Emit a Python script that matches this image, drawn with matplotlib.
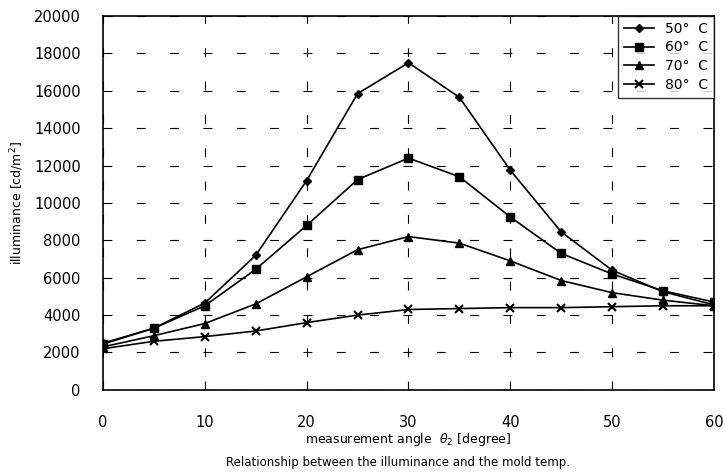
import numpy as np
import matplotlib
matplotlib.use('Agg')
import matplotlib.pyplot as plt

# measurement angle and illuminance for each mold temperature
angle = [0, 5, 10, 15, 20, 25, 30, 35, 40, 45, 50, 55, 60]
lum_50 = [2500, 3300, 4650, 7200, 11200, 15850, 17500, 15650, 11750, 8450, 6400, 5250, 4550]
lum_60 = [2450, 3300, 4500, 6450, 8800, 11250, 12400, 11400, 9250, 7300, 6200, 5300, 4700]
lum_70 = [2300, 2900, 3550, 4600, 6050, 7500, 8200, 7850, 6900, 5850, 5200, 4800, 4500]
lum_80 = [2200, 2600, 2850, 3150, 3600, 4000, 4300, 4350, 4400, 4400, 4450, 4500, 4500]
labels = ['50°  C', '60°  C', '70°  C', '80°  C']

plt.rcParams['font.family'] = ['DejaVu Sans']

fig = plt.figure(figsize=(7.23, 4.72), dpi=100)
ax = fig.add_axes([0.1425, 0.174, 0.845, 0.792])

ax.plot(angle, lum_50, 'k-', marker='D', ms=4, lw=1.2, label=labels[0])
ax.plot(angle, lum_60, 'k-', marker='s', ms=6, lw=1.2, label=labels[1])
ax.plot(angle, lum_70, 'k-', marker='^', ms=6, lw=1.2, label=labels[2])
ax.plot(angle, lum_80, 'k-', marker='x', ms=6, mew=1.5, lw=1.2, label=labels[3])

ax.set_xlim(0, 60)
ax.set_ylim(0, 20000)
ax.set_xticks(np.arange(0, 61, 10))
ax.set_yticks(np.arange(0, 20001, 2000))
ax.tick_params(length=0, labelsize=10.5)
ax.tick_params(axis='x', pad=18)
ax.tick_params(axis='y', pad=16)

# broken scan-style grid
ax.grid(True, color='black', lw=0.8, ls=(0, (8, 22)))

for s in ax.spines.values():
    s.set_linewidth(1.2)

ax.set_ylabel('illuminance [cd/m$^2$]', fontsize=9, labelpad=6)
ax.set_xlabel(r'measurement angle  $\theta_2$ [degree]', fontsize=9, labelpad=1)
fig.text(0.55, 0.013, 'Relationship between the illuminance and the mold temp.', ha='center', fontsize=8.5)

leg = ax.legend(loc='upper right', fontsize=10, frameon=True, fancybox=False,
                edgecolor='black', borderaxespad=0, handlelength=2.2, labelspacing=0.35)
leg.get_frame().set_linewidth(1.0)

fig.savefig('out.png', dpi=100)
